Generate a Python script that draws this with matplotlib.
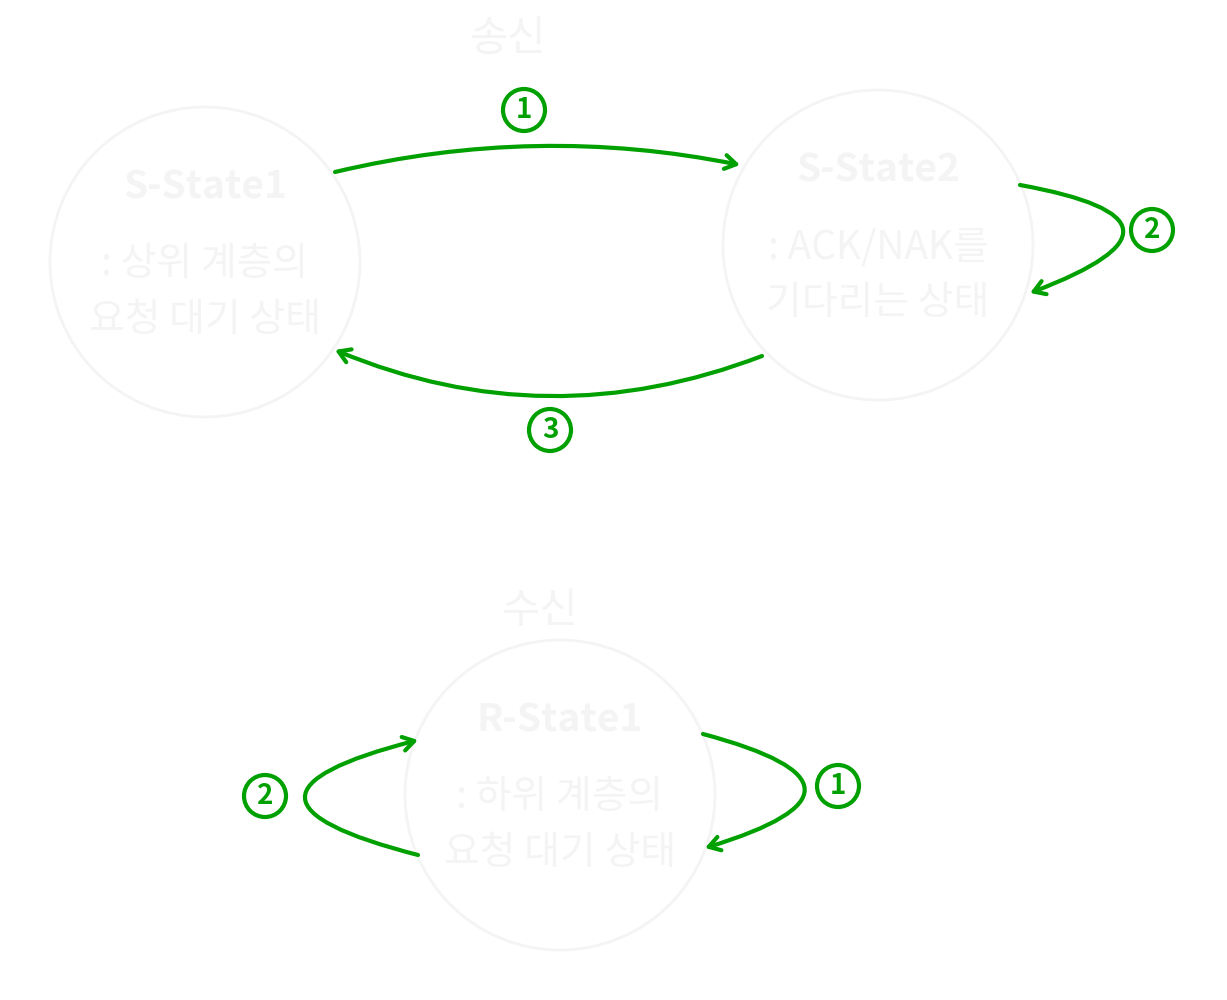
import matplotlib.pyplot as plt
from matplotlib.patches import Circle, FancyArrowPatch

plt.rcParams['font.family'] = ['Noto Sans CJK KR', 'DejaVu Sans']

GREEN = "#00a000"
FAINT = "#f4f4f4"

# state bubbles: centre x, centre y, radius, lines of text
state_names = ["S-State1", "S-State2", "R-State1"]
state_x = [205, 878, 560]
state_y = [262, 245, 795]
state_r = [155, 155, 155]
state_desc = [": 상위 계층의\n요청 대기 상태", ": ACK/NAK를\n기다리는 상태", ": 하위 계층의\n요청 대기 상태"]

# group titles
titles = ["송신", "수신"]
title_x = [508, 540]
title_y = [40, 612]

# transitions: start, end, curvature, label, label position
arrow_start = [(335, 172), (1020, 185), (762, 356), (703, 734), (418, 855)]
arrow_end = [(740, 165), (1030, 293), (335, 350), (705, 848), (418, 740)]
arrow_rad = [-0.11, -1.8, -0.2, -1.75, -1.95]
arrow_label = ["1", "2", "3", "1", "2"]
label_x = [524, 1152, 550, 838, 265]
label_y = [110, 230, 430, 786, 796]

fig = plt.figure(figsize=(12.27, 10), dpi=100)
ax = fig.add_axes([0, 0, 1, 1])
ax.set_xlim(0, 1227)
ax.set_ylim(1000, 0)
ax.axis("off")

for name, x, y, r, desc in zip(state_names, state_x, state_y, state_r, state_desc):
    ax.add_patch(Circle((x, y), r, fill=False, ec=FAINT, lw=2))
    ax.text(x, y - 75, name, ha="center", va="center", fontsize=28, color=FAINT, fontweight="bold")
    ax.text(x, y + 30, desc, ha="center", va="center", fontsize=28, color=FAINT, linespacing=1.5)

for t, x, y in zip(titles, title_x, title_y):
    ax.text(x, y, t, ha="center", va="center", fontsize=30, color=FAINT)

for s, e, rad, lab, lx, ly in zip(arrow_start, arrow_end, arrow_rad, arrow_label, label_x, label_y):
    ax.add_patch(FancyArrowPatch(s, e, connectionstyle=f"arc3,rad={rad}",
                                 arrowstyle="->,head_length=8,head_width=5",
                                 color=GREEN, lw=3, shrinkA=0, shrinkB=0))
    ax.add_patch(Circle((lx, ly), 21, fill=False, ec=GREEN, lw=3))
    ax.text(lx, ly, lab, ha="center", va="center", fontsize=20, color=GREEN, fontweight="bold")

fig.savefig("out.png", dpi=100)
